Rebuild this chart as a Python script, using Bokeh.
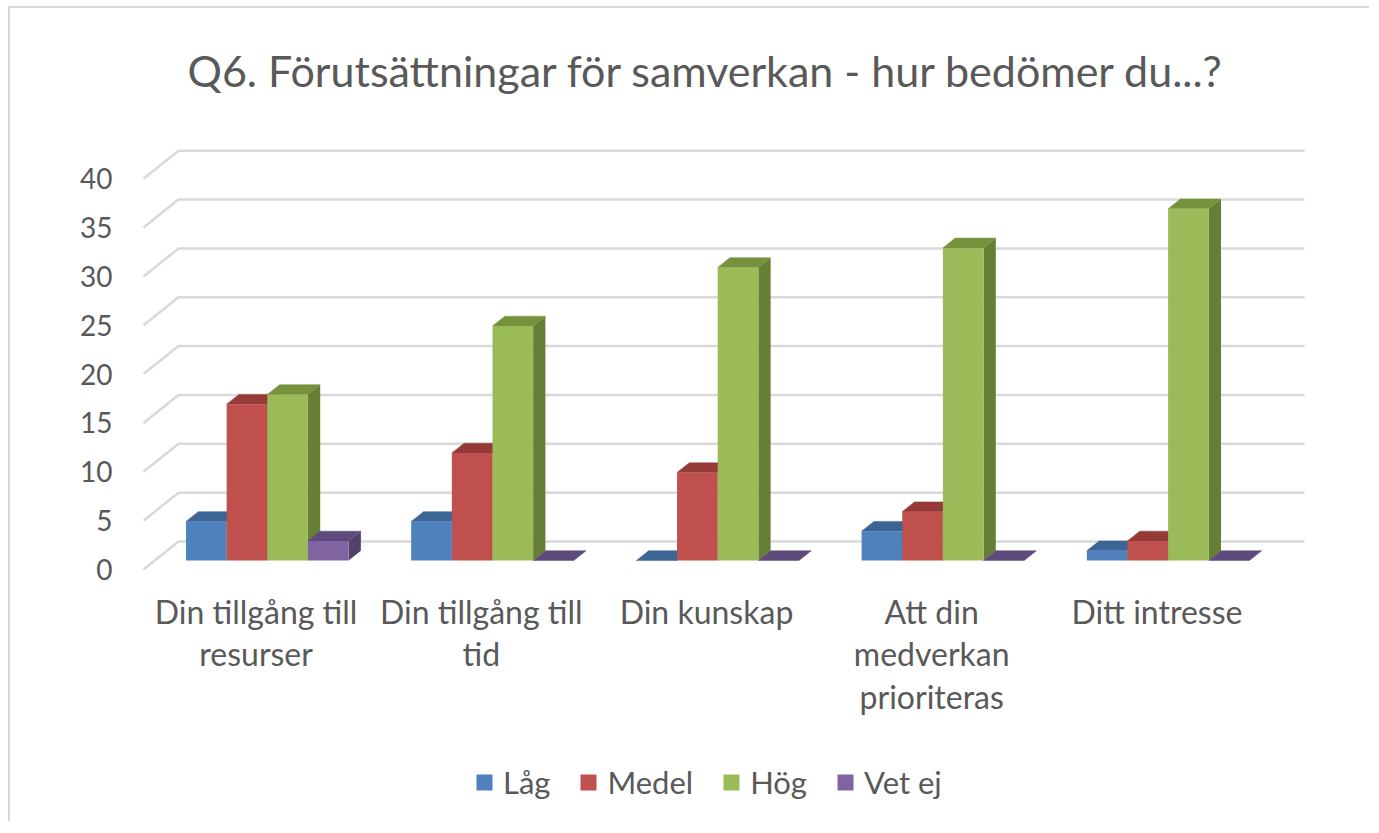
from bokeh.plotting import figure
from bokeh.models import FixedTicker, Legend, LegendItem, Range1d
from bokeh.core.properties import value
from bokeh.embed import file_html
from bokeh.resources import INLINE

# ---------------- data ----------------
categories = ["Din tillgång till resurser", "Din tillgång till tid", "Din kunskap",
              "Att din medverkan prioriteras", "Ditt intresse"]
tick_labels = ["Din tillgång till\nresurser", "Din tillgång till\ntid", "Din kunskap",
               "Att din\nmedverkan\nprioriteras", "Ditt intresse"]
series_names = ["Låg", "Medel", "Hög", "Vet ej"]
lag = [4, 4, 0, 3, 1]
medel = [16, 11, 9, 5, 2]
hog = [17, 24, 30, 32, 36]
vet_ej = [2, 0, 0, 0, 0]
y_ticks = [0, 5, 10, 15, 20, 25, 30, 35, 40]

series_values = [lag, medel, hog, vet_ej]
front_colors = ["#4F81BD", "#C0504D", "#9BBB59", "#8064A2"]
top_colors = ["#3C6596", "#953A37", "#76923C", "#5F4A7C"]
side_colors = ["#355985", "#82312F", "#667F35", "#534169"]

# ---------------- geometry (pseudo 3D) ----------------
PX_X = 225.2          # pixels per category
PX_Y = 9.77           # pixels per value unit
DX = 35.0 / PX_X      # full depth shift in x (data units)
DY = 28.0 / PX_Y      # full depth shift in y (data units)
D0, D1 = 0.32, 0.67   # bar depth span
BW = 0.1805           # bar width (category units)
LABEL_GAP = 22.0 / PX_Y   # category labels start this far below the floor front

OX, OY = 10, 8        # canvas origin on the page
W, H = 1361, 815
FL, FR, FT, FB = 125, 1296, 112, 815   # frame edges in canvas px

x_start = -0.5 + (FL + OX - 143) / PX_X
x_end = -0.5 + (FR + OX - 143) / PX_X
y_start = (569 - (FB + OY)) / PX_Y
y_end = (569 - (FT + OY)) / PX_Y

p = figure(width=W, height=H, output_backend="svg", toolbar_location=None,
           x_range=Range1d(x_start, x_end), y_range=Range1d(y_start, y_end),
           min_border_left=FL, min_border_right=W - FR,
           min_border_top=FT, min_border_bottom=H - FB,
           title="Q6. Förutsättningar för samverkan - hur bedömer du...?")
p.styles = {"border-left": "2px solid #D9D9D9", "border-top": "2px solid #D9D9D9",
            "margin-left": "8px", "margin-top": "6px"}
p.background_fill_color = "white"
p.border_fill_color = "white"
p.outline_line_color = None
p.xgrid.visible = False
p.ygrid.visible = False

p.title.align = "left"
p.title.text_font = "Lato"
p.title.text_font_size = "43px"
p.title.text_font_style = "normal"
p.title.text_color = "#595959"
p.title.offset = 52
p.title.standoff = 49

# gridlines: left side wall + back wall
gx = [[-0.5, -0.5 + DX, 4.5 + DX] for _ in y_ticks]
gy = [[v, v + DY, v + DY] for v in y_ticks]
p.multi_line(gx, gy, line_color="#D9D9D9", line_width=2.5)

legend_items = []
for j, vals in enumerate(series_values):
    fx0, fx1, fb, ft = [], [], [], []
    top_xs, top_ys, side_xs, side_ys = [], [], [], []
    for i, v in enumerate(vals):
        x0 = i - 2 * BW + j * BW
        x1 = x0 + BW
        a0, a1 = x0 + D0 * DX, x1 + D0 * DX
        b0, b1 = x0 + D1 * DX, x1 + D1 * DX
        y0f, y0b = D0 * DY, D1 * DY
        fx0.append(a0); fx1.append(a1); fb.append(y0f); ft.append(v + y0f)
        top_xs.append([a0, a1, b1, b0])
        top_ys.append([v + y0f, v + y0f, v + y0b, v + y0b])
        side_xs.append([a1, a1, b1, b1])
        side_ys.append([y0f, v + y0f, v + y0b, y0b])
    p.patches(side_xs, side_ys, fill_color=side_colors[j], line_color=None)
    p.patches(top_xs, top_ys, fill_color=top_colors[j], line_color=top_colors[j], line_width=0.5)
    r = p.quad(left=fx0, right=fx1, bottom=fb, top=ft, fill_color=front_colors[j], line_color=None)
    legend_items.append(LegendItem(label=series_names[j], renderers=[r]))

# category labels (front edge of the floor)
p.text(x=list(range(len(tick_labels))), y=[-LABEL_GAP] * len(tick_labels), text=tick_labels,
       text_align="center", text_baseline="top", text_font=value("Lato"),
       text_font_size="32px", text_line_height=1.1, text_color="#595959")

# axes
p.yaxis.ticker = FixedTicker(ticks=y_ticks)
p.yaxis.axis_line_color = None
p.yaxis.major_tick_line_color = None
p.yaxis.minor_tick_line_color = None
p.yaxis.major_label_standoff = 17
p.yaxis.major_label_text_font = "Lato"
p.yaxis.major_label_text_font_size = "28px"
p.yaxis.major_label_text_color = "#595959"
p.xaxis.visible = False

legend = Legend(items=legend_items, orientation="horizontal",
                location=(474 - (FL + OX), (FB + OY) - 801),
                glyph_width=20, glyph_height=20, label_height=20,
                label_standoff=9, spacing=28, padding=0, margin=0,
                border_line_color=None, background_fill_alpha=0,
                label_text_font="Lato", label_text_font_size="31px",
                label_text_color="#595959")
p.add_layout(legend, "center")

open("out.html", "w").write(file_html(p, INLINE))
